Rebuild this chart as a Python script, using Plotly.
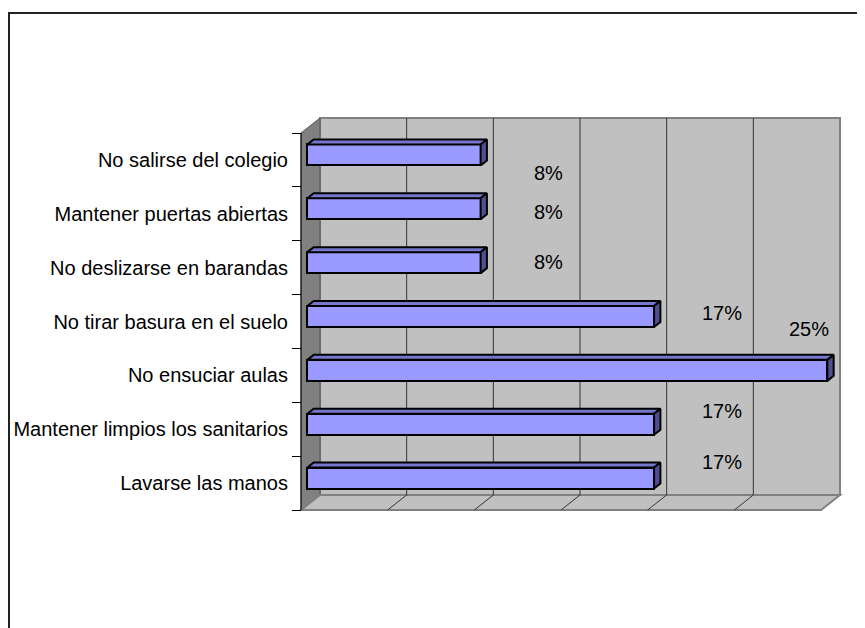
import plotly.graph_objects as go

# ---------------- data ----------------
CATEGORIES = [
    "Lavarse las manos",
    "Mantener limpios los sanitarios",
    "No ensuciar aulas",
    "No tirar basura en el suelo",
    "No deslizarse en barandas",
    "Mantener puertas abiertas",
    "No salirse del colegio",
]
VALUES = [0.1667, 0.1667, 0.25, 0.1667, 0.0833, 0.0833, 0.0833]
AXIS_MAX = 0.25
N_GRID = 6  # major unit = AXIS_MAX / 6

# ---------------- style / geometry ----------------
W, H = 865, 628
PAGE_OFF = 8.0               # page body margin offset
PX_PER_X = 2080.0            # pixels per value unit
PX_PER_CAT = 53.857          # pixels per category
X0_PX, Y0_PX = 301.0 - PAGE_OFF, 510.0 - PAGE_OFF   # origin of the front plane
DEPTH_PX = (19.0, 15.0)
DX = DEPTH_PX[0] / PX_PER_X
DY = DEPTH_PX[1] / PX_PER_CAT
BAR_H = 0.39
BDX, BDY = DX / 3, DY / 3      # bar front plane offset / bar depth

X_RANGE = [-X0_PX / PX_PER_X, (W - X0_PX) / PX_PER_X]
Y_RANGE = [(Y0_PX - H) / PX_PER_CAT, Y0_PX / PX_PER_CAT]

FONT = "Liberation Sans, Arial, sans-serif"
FRONT = "#9999FF"
TOP = "#7676cc"
SIDE = "#4f4f8f"
WALL = "#C0C0C0"
SIDEWALL = "#808080"
EDGE = "#808080"

LABEL_XSHIFT = [68, 68, -18, 68, 68, 68, 68]
LABEL_YSHIFT = [16, 13, 41, 3.5, 0.7, -3, -18]

n = len(CATEGORIES)
centers = [i + 0.5 for i in range(n)]

fig = go.Figure()


def poly(pts):
    return "M " + " L ".join(f"{x},{y}" for x, y in pts) + " Z"


shapes = []
# back wall
shapes.append(dict(type="path", xref="x", yref="y", layer="below",
                   path=poly([(DX, DY), (AXIS_MAX + DX, DY), (AXIS_MAX + DX, n + DY), (DX, n + DY)]),
                   fillcolor=WALL, line=dict(color=EDGE, width=2)))
# left side wall
shapes.append(dict(type="path", xref="x", yref="y", layer="below",
                   path=poly([(0, 0), (DX, DY), (DX, n + DY), (0, n)]),
                   fillcolor=SIDEWALL, line=dict(color="#555555", width=1)))
# floor
shapes.append(dict(type="path", xref="x", yref="y", layer="below",
                   path=poly([(0, 0), (AXIS_MAX, 0), (AXIS_MAX + DX, DY), (DX, DY)]),
                   fillcolor=WALL, line=dict(color=EDGE, width=2)))
# gridlines on back wall and floor
for k in range(1, N_GRID):
    gx = AXIS_MAX * k / N_GRID
    shapes.append(dict(type="line", xref="x", yref="y", layer="below",
                       x0=gx + DX, x1=gx + DX, y0=DY, y1=n + DY,
                       line=dict(color="#333333", width=1)))
    shapes.append(dict(type="line", xref="x", yref="y", layer="below",
                       x0=gx, x1=gx + DX, y0=0, y1=DY,
                       line=dict(color="#333333", width=1)))
# left side wall front edge
shapes.append(dict(type="line", xref="x", yref="y", layer="below",
                   x0=0, x1=0, y0=0, y1=n, line=dict(color="#000000", width=1)))
# outer chart frame
shapes.append(dict(type="rect", xref="paper", yref="paper",
                   x0=1 / W, x1=1.2, y0=-0.2, y1=1 - (13 - PAGE_OFF) / H,
                   line=dict(color="#222222", width=2), fillcolor="rgba(0,0,0,0)"))

# front faces of bars
fig.add_trace(go.Bar(
    x=VALUES, y=[c + BDY for c in centers], base=BDX, orientation="h",
    width=BAR_H, marker=dict(color=FRONT, line=dict(color="black", width=2)),
    hoverinfo="skip", showlegend=False,
))

# top and side faces
for c, v in zip(centers, VALUES):
    y_top = c + BDY + BAR_H / 2
    y_bot = c + BDY - BAR_H / 2
    xl, xr = BDX, v + BDX
    fig.add_trace(go.Scatter(
        x=[xl, xr, xr + BDX, xl + BDX, xl], y=[y_top, y_top, y_top + BDY, y_top + BDY, y_top],
        mode="lines", fill="toself", fillcolor=TOP, line=dict(color="black", width=2),
        hoverinfo="skip", showlegend=False))
    fig.add_trace(go.Scatter(
        x=[xr, xr + BDX, xr + BDX, xr, xr], y=[y_bot, y_bot + BDY, y_top + BDY, y_top, y_bot],
        mode="lines", fill="toself", fillcolor=SIDE, line=dict(color="black", width=2),
        hoverinfo="skip", showlegend=False))

annotations = []
for c, v, xs, ys in zip(centers, VALUES, LABEL_XSHIFT, LABEL_YSHIFT):
    annotations.append(dict(x=v + BDX, y=c + BDY, xref="x", yref="y",
                            text=f"{round(v * 100)}%", showarrow=False,
                            xshift=xs, yshift=ys,
                            font=dict(family=FONT, size=20, color="black")))

fig.update_layout(
    width=W, height=H, autosize=False,
    margin=dict(l=0, r=0, t=0, b=0),
    paper_bgcolor="white", plot_bgcolor="white",
    shapes=shapes, annotations=annotations,
    xaxis=dict(range=X_RANGE, visible=False, fixedrange=True),
    yaxis=dict(range=Y_RANGE, anchor="free", position=X0_PX / W, side="left",
               tickmode="array", tickvals=centers, ticktext=CATEGORIES,
               ticks="outside", ticklen=9, tickcolor="rgba(0,0,0,0)",
               tickfont=dict(family=FONT, size=20, color="black"),
               minor=dict(tickmode="array", tickvals=list(range(n + 1)),
                          ticks="outside", ticklen=9, tickcolor="black", tickwidth=1,
                          showgrid=False),
               showgrid=False, zeroline=False, showline=False,
               automargin=False, fixedrange=True),
    bargap=0,
    showlegend=False,
)

fig.write_html("out.html")
